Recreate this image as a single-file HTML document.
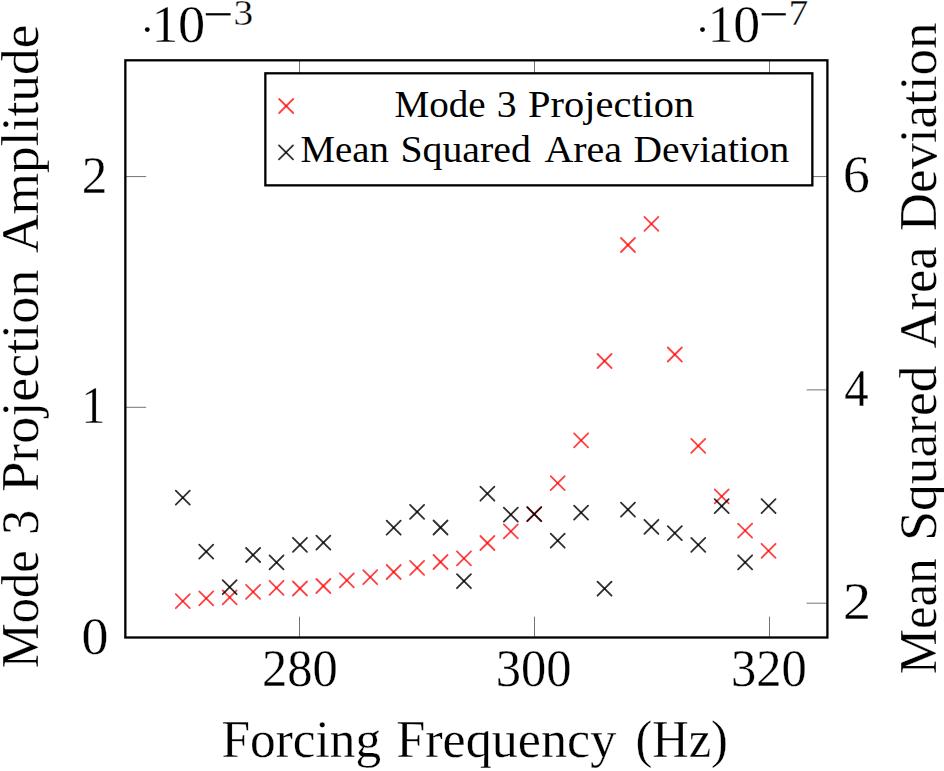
<!DOCTYPE html>
<html><head><meta charset="utf-8"><style>
html,body{margin:0;padding:0;background:#fff;}
svg{display:block;}
text{font-family:"Liberation Serif",serif;fill:#000;stroke:#fff;stroke-width:0.3px;}
text.s{stroke-width:0.3px;}
text.g{stroke:none;}
</style></head><body>
<svg width="944" height="771" viewBox="0 0 944 771">
<rect width="944" height="771" fill="#fff"/>
<path d="M299.5 637.5V616.7M299.5 60.3V81.1M534.5 637.5V616.7M534.5 60.3V81.1M769.5 637.5V616.7M769.5 60.3V81.1M125.35 176.6H146.15M125.35 407.3H146.15M827.4 176.6H806.6M827.4 389.9H806.6M827.4 603.2H806.6" stroke="#000" stroke-width="1" fill="none" opacity="0.55"/>
<g><g stroke="#f00" stroke-width="1.8" stroke-opacity="0.75" stroke-linecap="round" fill="none"><path d="M175.80 594.20L189.80 608.20"/><path d="M175.80 608.20L189.80 594.20"/><path d="M199.23 591.40L213.23 605.40"/><path d="M199.23 605.40L213.23 591.40"/><path d="M222.66 590.40L236.66 604.40"/><path d="M222.66 604.40L236.66 590.40"/><path d="M246.09 584.90L260.09 598.90"/><path d="M246.09 598.90L260.09 584.90"/><path d="M269.52 580.80L283.52 594.80"/><path d="M269.52 594.80L283.52 580.80"/><path d="M292.95 581.50L306.95 595.50"/><path d="M292.95 595.50L306.95 581.50"/><path d="M316.38 579.00L330.38 593.00"/><path d="M316.38 593.00L330.38 579.00"/><path d="M339.81 573.30L353.81 587.30"/><path d="M339.81 587.30L353.81 573.30"/><path d="M363.24 570.20L377.24 584.20"/><path d="M363.24 584.20L377.24 570.20"/><path d="M386.67 565.00L400.67 579.00"/><path d="M386.67 579.00L400.67 565.00"/><path d="M410.10 560.90L424.10 574.90"/><path d="M410.10 574.90L424.10 560.90"/><path d="M433.53 555.00L447.53 569.00"/><path d="M433.53 569.00L447.53 555.00"/><path d="M456.96 551.30L470.96 565.30"/><path d="M456.96 565.30L470.96 551.30"/><path d="M480.39 536.00L494.39 550.00"/><path d="M480.39 550.00L494.39 536.00"/><path d="M503.82 524.40L517.82 538.40"/><path d="M503.82 538.40L517.82 524.40"/><path d="M527.25 507.20L541.25 521.20"/><path d="M527.25 521.20L541.25 507.20"/><path d="M550.68 476.10L564.68 490.10"/><path d="M550.68 490.10L564.68 476.10"/><path d="M574.11 433.30L588.11 447.30"/><path d="M574.11 447.30L588.11 433.30"/><path d="M597.54 354.00L611.54 368.00"/><path d="M597.54 368.00L611.54 354.00"/><path d="M620.97 238.00L634.97 252.00"/><path d="M620.97 252.00L634.97 238.00"/><path d="M644.40 216.90L658.40 230.90"/><path d="M644.40 230.90L658.40 216.90"/><path d="M667.83 347.50L681.83 361.50"/><path d="M667.83 361.50L681.83 347.50"/><path d="M691.26 438.90L705.26 452.90"/><path d="M691.26 452.90L705.26 438.90"/><path d="M714.69 489.40L728.69 503.40"/><path d="M714.69 503.40L728.69 489.40"/><path d="M738.12 523.60L752.12 537.60"/><path d="M738.12 537.60L752.12 523.60"/><path d="M761.55 543.80L775.55 557.80"/><path d="M761.55 557.80L775.55 543.80"/></g>
<g stroke="#000" stroke-width="1.8" stroke-opacity="0.82" stroke-linecap="round" fill="none"><path d="M175.80 490.60L189.80 504.60"/><path d="M175.80 504.60L189.80 490.60"/><path d="M199.23 544.60L213.23 558.60"/><path d="M199.23 558.60L213.23 544.60"/><path d="M222.66 580.20L236.66 594.20"/><path d="M222.66 594.20L236.66 580.20"/><path d="M246.09 548.00L260.09 562.00"/><path d="M246.09 562.00L260.09 548.00"/><path d="M269.52 555.40L283.52 569.40"/><path d="M269.52 569.40L283.52 555.40"/><path d="M292.95 537.80L306.95 551.80"/><path d="M292.95 551.80L306.95 537.80"/><path d="M316.38 535.60L330.38 549.60"/><path d="M316.38 549.60L330.38 535.60"/><path d="M386.67 520.70L400.67 534.70"/><path d="M386.67 534.70L400.67 520.70"/><path d="M410.10 504.90L424.10 518.90"/><path d="M410.10 518.90L424.10 504.90"/><path d="M433.53 520.50L447.53 534.50"/><path d="M433.53 534.50L447.53 520.50"/><path d="M456.96 574.20L470.96 588.20"/><path d="M456.96 588.20L470.96 574.20"/><path d="M480.39 486.70L494.39 500.70"/><path d="M480.39 500.70L494.39 486.70"/><path d="M503.82 507.60L517.82 521.60"/><path d="M503.82 521.60L517.82 507.60"/><path d="M527.25 507.10L541.25 521.10"/><path d="M527.25 521.10L541.25 507.10"/><path d="M550.68 533.70L564.68 547.70"/><path d="M550.68 547.70L564.68 533.70"/><path d="M574.11 505.60L588.11 519.60"/><path d="M574.11 519.60L588.11 505.60"/><path d="M597.54 581.70L611.54 595.70"/><path d="M597.54 595.70L611.54 581.70"/><path d="M620.97 502.60L634.97 516.60"/><path d="M620.97 516.60L634.97 502.60"/><path d="M644.40 519.80L658.40 533.80"/><path d="M644.40 533.80L658.40 519.80"/><path d="M667.83 526.10L681.83 540.10"/><path d="M667.83 540.10L681.83 526.10"/><path d="M691.26 537.90L705.26 551.90"/><path d="M691.26 551.90L705.26 537.90"/><path d="M714.69 499.10L728.69 513.10"/><path d="M714.69 513.10L728.69 499.10"/><path d="M738.12 555.30L752.12 569.30"/><path d="M738.12 569.30L752.12 555.30"/><path d="M761.55 499.10L775.55 513.10"/><path d="M761.55 513.10L775.55 499.10"/></g></g>
<rect x="125.35" y="60.3" width="702.05" height="577.20" fill="none" stroke="#000" stroke-width="2.3"/>
<rect x="265.35" y="73.3" width="547" height="112.05" fill="#fff" stroke="#000" stroke-width="2.3"/>
<g><g stroke="#f00" stroke-width="1.8" stroke-opacity="0.75" stroke-linecap="round" fill="none"><path d="M279.20 99.00L293.20 113.00"/><path d="M279.20 113.00L293.20 99.00"/></g>
<g stroke="#000" stroke-width="1.8" stroke-opacity="0.82" stroke-linecap="round" fill="none"><path d="M279.00 145.40L293.00 159.40"/><path d="M279.00 159.40L293.00 145.40"/></g></g>
<circle cx="147.3" cy="29.6" r="2.4"/>
<rect x="205.8" y="13.2" width="24.8" height="2.2"/>
<circle cx="702.5" cy="29.6" r="2.4"/>
<rect x="761.6" y="13.2" width="24.2" height="2.2"/>
<text x="221.60" y="757.00" font-size="52" textLength="159.54" lengthAdjust="spacingAndGlyphs">Forcing</text>
<text x="396.20" y="757.00" font-size="52" textLength="220.09" lengthAdjust="spacingAndGlyphs">Frequency</text>
<text x="635.40" y="757.00" font-size="52" textLength="92.55" lengthAdjust="spacingAndGlyphs">(Hz)</text>
<text class="g" x="394.40" y="117.10" font-size="38.75" textLength="91.23" lengthAdjust="spacingAndGlyphs">Mode</text>
<text class="g" x="496.80" y="117.10" font-size="38.75" textLength="19.87" lengthAdjust="spacingAndGlyphs">3</text>
<text class="g" x="528.00" y="117.10" font-size="38.75" textLength="166.34" lengthAdjust="spacingAndGlyphs">Projection</text>
<text class="g" x="300.60" y="162.30" font-size="38.75" textLength="88.3" lengthAdjust="spacingAndGlyphs">Mean</text>
<text class="g" x="400.40" y="162.30" font-size="38.75" textLength="130.47" lengthAdjust="spacingAndGlyphs">Squared</text>
<text class="g" x="544.40" y="162.30" font-size="38.75" textLength="77.62" lengthAdjust="spacingAndGlyphs">Area</text>
<text class="g" x="633.60" y="162.30" font-size="38.75" textLength="155.75" lengthAdjust="spacingAndGlyphs">Deviation</text>
<text transform="translate(38.20 668.20) rotate(-90)" font-size="52" textLength="117.95" lengthAdjust="spacingAndGlyphs">Mode</text>
<text transform="translate(38.20 534.80) rotate(-90)" font-size="52" textLength="24.82" lengthAdjust="spacingAndGlyphs">3</text>
<text transform="translate(38.20 491.80) rotate(-90)" font-size="52" textLength="222.16" lengthAdjust="spacingAndGlyphs">Projection</text>
<text transform="translate(38.20 253.00) rotate(-90)" font-size="52" textLength="228.39" lengthAdjust="spacingAndGlyphs">Amplitude</text>
<text transform="translate(936.30 674.20) rotate(-90)" font-size="52" textLength="115.77" lengthAdjust="spacingAndGlyphs">Mean</text>
<text transform="translate(936.30 540.80) rotate(-90)" font-size="52" textLength="175.41" lengthAdjust="spacingAndGlyphs">Squared</text>
<text transform="translate(936.30 348.40) rotate(-90)" font-size="52" textLength="102.04" lengthAdjust="spacingAndGlyphs">Area</text>
<text transform="translate(936.30 231.20) rotate(-90)" font-size="52" textLength="208.6" lengthAdjust="spacingAndGlyphs">Deviation</text>
<text x="151.80" y="42.00" font-size="52" textLength="26.49" lengthAdjust="spacingAndGlyphs">1</text>
<text x="178.00" y="42.00" font-size="52" textLength="27.18" lengthAdjust="spacingAndGlyphs">0</text>
<text x="708.00" y="42.00" font-size="52" textLength="25.33" lengthAdjust="spacingAndGlyphs">1</text>
<text x="733.20" y="42.00" font-size="52" textLength="26.88" lengthAdjust="spacingAndGlyphs">0</text>
<text class="s" x="233.60" y="24.60" font-size="35.5" textLength="19.65" lengthAdjust="spacingAndGlyphs">3</text>
<text class="s" x="788.40" y="24.60" font-size="35.5" textLength="19.82" lengthAdjust="spacingAndGlyphs">7</text>
<text x="262.00" y="686.00" font-size="52" textLength="75.79" lengthAdjust="spacingAndGlyphs">280</text>
<text x="495.80" y="686.00" font-size="52" textLength="75.76" lengthAdjust="spacingAndGlyphs">300</text>
<text x="731.00" y="686.00" font-size="52" textLength="75.89" lengthAdjust="spacingAndGlyphs">320</text>
<text x="81.80" y="192.50" font-size="52" textLength="25.63" lengthAdjust="spacingAndGlyphs">2</text>
<text x="81.60" y="422.80" font-size="52" textLength="23.82" lengthAdjust="spacingAndGlyphs">1</text>
<text x="81.40" y="653.70" font-size="52" textLength="26.96" lengthAdjust="spacingAndGlyphs">0</text>
<text x="843.00" y="191.70" font-size="52" textLength="26.77" lengthAdjust="spacingAndGlyphs">6</text>
<text x="844.20" y="405.90" font-size="52" textLength="24.41" lengthAdjust="spacingAndGlyphs">4</text>
<text x="843.00" y="619.30" font-size="52" textLength="28.05" lengthAdjust="spacingAndGlyphs">2</text>
</svg>
</body></html>
